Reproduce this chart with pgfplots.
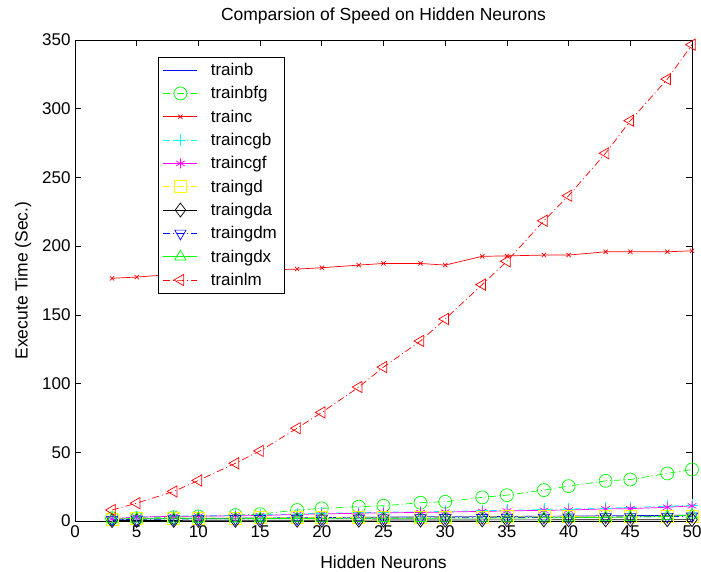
\documentclass[border=0pt]{standalone}
\usepackage{pgfplots}
\pgfplotsset{compat=1.18}
\usepackage{fontspec}
\setmainfont{Liberation Sans}
\definecolor{mblue}{rgb}{0,0,1}
\definecolor{mgreen}{rgb}{0,1,0}
\definecolor{mred}{rgb}{1,0,0}
\definecolor{mcyan}{rgb}{0,1,1}
\definecolor{mmagenta}{rgb}{1,0,1}
\definecolor{myellow}{rgb}{1,1,0}
\definecolor{mblack}{rgb}{0,0,0}
\pgfplotstableread{
x trainb trainbfg trainc traincgb traincgf traingd traingda traingdm traingdx trainlm
3  1.2 2.0  176.6 1.8  1.6  1.5 0.3 1.0 1.5 8.0
5  1.5 2.0  177.5 3.0  2.8  1.8 0.4 1.2 1.6 13.0
8  1.8 2.7  179.5 3.6  3.4  2.0 0.4 1.4 1.6 21.5
10 2.0 3.3  181.0 3.8  3.5  2.1 0.5 1.5 1.7 29.5
13 2.1 4.3  182.0 4.2  3.8  2.2 0.5 1.6 1.7 42.0
15 2.2 5.0  182.5 4.5  4.0  2.3 0.5 1.7 1.8 51.0
18 2.4 8.0  183.3 5.2  4.8  2.4 0.6 1.8 1.8 67.5
20 2.5 9.2  184.3 5.6  5.2  2.5 0.6 1.9 1.9 79.0
23 2.7 10.4 186.2 6.0  5.6  2.6 0.6 2.0 1.9 97.5
25 2.8 11.1 187.4 6.4  6.0  2.7 0.7 2.1 2.0 112.0
28 3.0 13.3 187.4 6.7  6.2  2.8 0.7 2.2 2.0 131.0
30 3.1 14.0 186.2 7.0  6.5  2.9 0.7 2.3 2.1 147.0
33 3.2 17.2 192.6 7.5  7.0  3.0 0.8 2.4 2.1 172.0
35 3.3 18.8 192.9 7.8  7.3  3.1 0.8 2.5 2.2 189.0
38 3.5 22.5 193.5 8.4  7.8  3.2 0.8 2.6 2.3 218.5
40 3.6 25.4 193.5 8.7  8.0  3.3 0.9 2.7 2.4 236.7
43 3.8 29.2 195.9 9.4  8.8  3.4 0.9 2.9 2.6 267.6
45 3.9 30.2 195.9 9.8  9.0  3.5 0.9 3.0 2.9 291.3
48 4.1 34.6 195.9 10.8 10.0 3.6 1.0 3.2 3.3 321.5
50 4.3 37.5 196.6 11.5 11.0 3.7 1.0 3.4 4.5 346.6
}\datatable
\tikzset{dashdot/.style={dash pattern=on 7pt off 3pt on 1pt off 3pt}}
\begin{document}
\begin{tikzpicture}
\begin{axis}[
  name=ax,
  scale only axis,
  width=617pt, height=481pt,
  xmin=0, xmax=50, ymin=0, ymax=350,
  xtick={0,5,...,50}, ytick={0,50,...,350},
  tick align=inside,
  major tick length=6pt,
  tick style={black, line width=0.7pt},
  axis line style={black, line width=0.9pt},
  /pgf/number format/assume math mode=true,
  ticklabel style={font=\fontsize{17}{19}\selectfont},
  xticklabel style={yshift=-1pt},
  yticklabel style={xshift=-1pt},
  label style={font=\fontsize{17.5}{19}\selectfont},
  title style={font=\fontsize{17.5}{19}\selectfont, at={(rel axis cs:0.5,1)}, anchor=center, yshift=18pt},
  title={Comparsion of Speed on Hidden Neurons},
  xlabel={Hidden Neurons},
  ylabel={Execute Time (Sec.)},
  xlabel style={at={(rel axis cs:0.5,0)}, anchor=center, yshift=-41pt},
  ylabel style={at={(rel axis cs:0,0.5)}, anchor=center, yshift=52pt},
  legend style={at={(0.134,0.965)}, anchor=north west, font=\fontsize{17}{19}\selectfont,
    draw=black, line width=0.8pt, row sep=5.5pt, inner xsep=5pt, inner ysep=4pt,
    /tikz/every odd column/.append style={column sep=11pt}},
  legend image code/.code={\draw[mark repeat=2,mark phase=2] plot coordinates {(0pt,0pt) (17pt,0pt) (34pt,0pt)};},
  legend cell align=left,
  legend image post style={line width=0.7pt},
  every axis plot/.append style={line width=0.7pt},
  clip=false,
]
\addplot[mblue, no markers] table[x=x,y=trainb]{\datatable};
\addlegendentry{trainb}
\addplot[mgreen, dashdot, mark=o, mark size=6.5pt, mark options={solid}] table[x=x,y=trainbfg]{\datatable};
\addlegendentry{trainbfg}
\addplot[mred, mark=x, mark size=3pt] table[x=x,y=trainc]{\datatable};
\addlegendentry{trainc}
\addplot[mcyan, dashdot, mark=+, mark size=6pt, mark options={solid}] table[x=x,y=traincgb]{\datatable};
\addlegendentry{traincgb}
\addplot[mmagenta, mark=asterisk, mark size=5pt] table[x=x,y=traincgf]{\datatable};
\addlegendentry{traincgf}
\addplot[myellow, dashdot, mark=square, mark size=6pt, mark options={solid}] table[x=x,y=traingd]{\datatable};
\addlegendentry{traingd}
\addplot[mblack, mark=diamond, mark size=7pt] table[x=x,y=traingda]{\datatable};
\addlegendentry{traingda}
\addplot[mblue, dashdot, mark=triangle, mark size=6.5pt, mark options={solid, rotate=180}] table[x=x,y=traingdm]{\datatable};
\addlegendentry{traingdm}
\addplot[mgreen, mark=triangle, mark size=6.5pt] table[x=x,y=traingdx]{\datatable};
\addlegendentry{traingdx}
\addplot[mred, dashdot, mark=triangle, mark size=6.5pt, mark options={solid, rotate=90}] table[x=x,y=trainlm]{\datatable};
\addlegendentry{trainlm}
\end{axis}
\pgfresetboundingbox
\path ([shift={(-75pt,-51pt)}]ax.south west) rectangle ([shift={(9pt,40pt)}]ax.north east);
\end{tikzpicture}
\end{document}
